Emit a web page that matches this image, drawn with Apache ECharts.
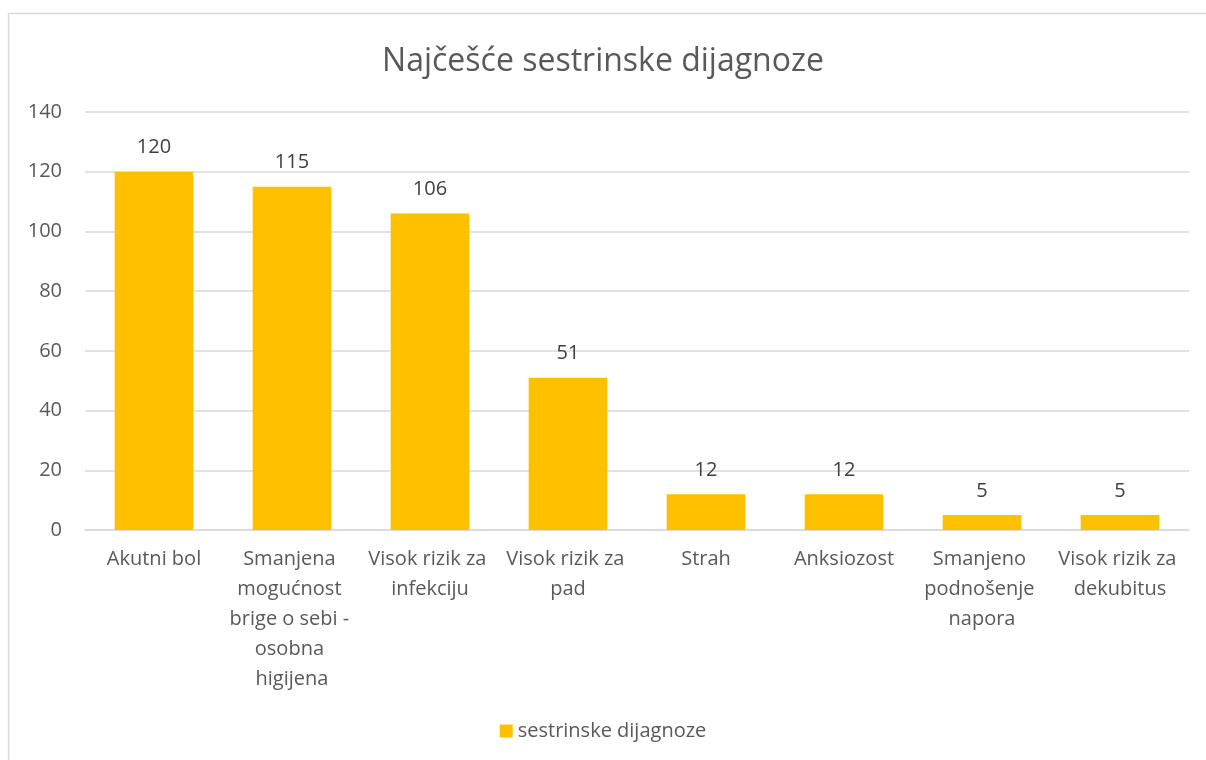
<!DOCTYPE html>
<html>
<head>
    <meta charset="utf-8">
    <title>Najčešće sestrinske dijagnoze</title>
    <script src="https://cdn.jsdelivr.net/npm/echarts@6/dist/echarts.min.js"></script>
</head>
<body style="margin:0">
    <div id="main" style="width:1206px;height:760px;"></div>
    <script>
        var categories = ['Akutni bol', 'Smanjena mogućnost brige o sebi - osobna higijena', 'Visok rizik za infekciju',
            'Visok rizik za pad', 'Strah', 'Anksiozost', 'Smanjeno podnošenje napora', 'Visok rizik za dekubitus'];
        var values = [120, 115, 106, 51, 12, 12, 5, 5];
        var seriesName = 'sestrinske dijagnoze';
        var yTicks = [0, 20, 40, 60, 80, 100, 120, 140];

        var myChart = echarts.init(document.getElementById('main'));
        var font = '"Open Sans", sans-serif';
        var textColor = '#595959';

        var option = {
            backgroundColor: '#fff',
            textStyle: { fontFamily: font },
            graphic: [{
                type: 'rect',
                shape: { x: 8.5, y: 13.5, width: 1210, height: 770 },
                style: { fill: 'none', stroke: '#d9d9d9', lineWidth: 1.5 },
                z: -1
            }],
            title: {
                text: 'Najčešće sestrinske dijagnoze',
                left: 'center',
                top: 41,
                textStyle: { fontFamily: font, fontSize: 32, fontWeight: 'normal', color: textColor }
            },
            legend: {
                data: [seriesName],
                bottom: 14,
                left: 'center',
                icon: 'rect',
                itemWidth: 13,
                itemHeight: 13,
                itemGap: 6,
                textStyle: { fontFamily: font, fontSize: 20, color: textColor }
            },
            grid: { left: 85, right: 17, top: 112, bottom: 230, containLabel: false },
            xAxis: {
                type: 'category',
                data: categories,
                axisLine: { lineStyle: { color: '#d9d9d9', width: 1.5 } },
                axisTick: { show: false },
                axisLabel: {
                    interval: 0,
                    margin: 14,
                    fontSize: 20,
                    color: textColor,
                    lineHeight: 30,
                    width: 140,
                    overflow: 'break'
                }
            },
            yAxis: {
                type: 'value',
                min: yTicks[0],
                max: yTicks[yTicks.length - 1],
                interval: 20,
                axisLine: { show: false },
                axisTick: { show: false },
                splitLine: { lineStyle: { color: '#d9d9d9', width: 1.5 } },
                axisLabel: { fontSize: 20, color: textColor, margin: 23 }
            },
            series: [{
                name: seriesName,
                type: 'bar',
                data: values,
                barCategoryGap: '43%',
                itemStyle: { color: '#FFC000' },
                label: {
                    show: true,
                    position: 'top',
                    distance: 14,
                    fontSize: 20,
                    color: '#404040'
                }
            }]
        };

        myChart.setOption(option);
    </script>
</body>
</html>
